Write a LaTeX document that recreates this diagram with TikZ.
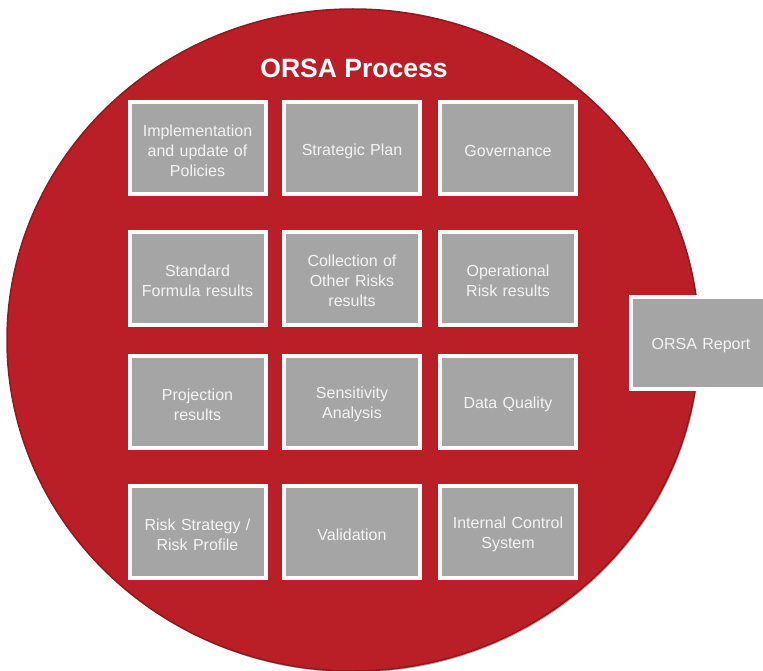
\documentclass[tikz,border=0pt]{standalone}
\usepackage{fontspec}
\setmainfont{Liberation Sans}
\usetikzlibrary{shadows}
\definecolor{orsared}{HTML}{BA1F28}
\definecolor{orsaedge}{HTML}{8E1A1F}
\definecolor{boxgray}{HTML}{A5A5A6}
\definecolor{txtwhite}{HTML}{F4F4F4}
\tikzset{
  gbox/.style={draw=white, line width=4pt, fill=boxgray, minimum width=136pt, minimum height=92pt,
    inner sep=2pt, align=center, text width=130pt, text=txtwhite,
    font=\fontsize{16pt}{20pt}\selectfont,
    execute at begin node={\rule{0pt}{16.5pt}},
    drop shadow={shadow xshift=1.5pt, shadow yshift=-2pt, opacity=0.45, fill=black}},
  bigcircle/.style={fill=orsared, draw=orsaedge, line width=1.5pt,
    drop shadow={shadow xshift=1pt, shadow yshift=-1.5pt, opacity=0.3, fill=black}},
  titlestyle/.style={text=white, font=\fontsize{26.5pt}{30pt}\selectfont\bfseries}
}
\begin{document}
\begin{tikzpicture}[x=1pt, y=-1pt]
\path[use as bounding box] (0,0) rectangle (763,671);
\path[bigcircle] (353,340) ellipse [x radius=346, y radius=331];
\node[titlestyle] (title) at (354,68) {ORSA Process};
% row 1
\node[gbox] (b11) at (197.5,148.5) {Implementation\\and update of\\Policies};
\node[gbox] (b12) at (352,148.5) {Strategic Plan};
\node[gbox] (b13) at (508,148.5) {Governance};
% row 2
\node[gbox] (b21) at (197.5,278.5) {Standard\\Formula results};
\node[gbox] (b22) at (352,278.5) {Collection of\\Other Risks\\results};
\node[gbox] (b23) at (508,278.5) {Operational\\Risk results};
% row 3
\node[gbox] (b31) at (197.5,402) {Projection\\results};
\node[gbox] (b32) at (352,402) {Sensitivity\\Analysis};
\node[gbox] (b33) at (508,402) {Data Quality};
% row 4
\node[gbox] (b41) at (197.5,532) {Risk Strategy /\\Risk Profile};
\node[gbox] (b42) at (352,532) {Validation};
\node[gbox] (b43) at (508,532) {Internal Control\\System};
% report
\node[gbox, minimum width=140pt] (rep) at (701,343) {ORSA Report};
\end{tikzpicture}
\end{document}
